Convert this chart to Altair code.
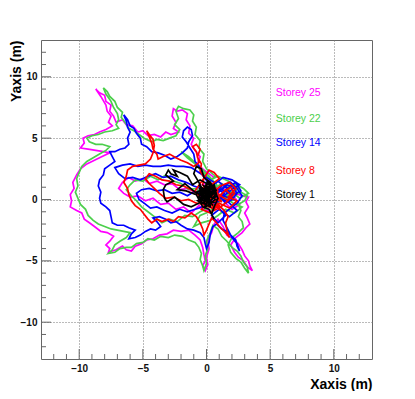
import altair as alt
import pandas as pd

# ---- data ----
storey25 = [(0.0,0.0),(0.5,0.7),(-0.3,1.2),(0.6,1.8),(-0.2,2.4),(-0.7,2.9),(-0.5,3.5),(-0.9,4.0),(-1.2,4.5),(-1.0,5.0),(-1.4,5.4),(-1.3,6.0),(-1.6,6.5),(-1.5,7.0),(-1.9,7.3),(-2.3,7.2),(-2.6,7.4),(-2.7,6.8),(-2.4,6.3),(-2.6,5.8),(-2.2,5.5),(-2.8,5.3),(-3.2,5.5),(-3.6,5.1),(-4.1,5.3),(-4.6,5.2),(-5.0,5.6),(-5.4,5.5),(-5.8,6.0),(-6.3,6.1),(-6.6,6.5),(-7.1,6.3),(-7.3,6.8),(-7.6,7.2),(-7.5,7.7),(-7.9,8.0),(-8.0,8.5),(-8.4,8.7),(-8.7,9.0),(-8.3,8.4),(-7.9,7.7),(-7.8,7.2),(-7.5,6.8),(-7.7,6.3),(-7.4,6.0),(-7.9,5.7),(-8.4,5.5),(-8.8,5.3),(-9.3,5.2),(-9.7,5.0),(-9.6,4.6),(-9.9,4.2),(-9.3,4.1),(-8.7,4.0),(-8.1,3.9),(-7.6,3.8),(-8.2,3.5),(-8.8,3.2),(-9.4,2.9),(-9.9,2.5),(-10.2,2.0),(-10.5,1.4),(-10.4,0.9),(-10.7,0.4),(-10.6,-0.1),(-10.7,-0.6),(-10.2,-0.9),(-9.8,-1.1),(-9.6,-1.6),(-9.2,-1.9),(-8.8,-2.2),(-8.3,-2.6),(-7.8,-2.7),(-7.3,-3.0),(-7.6,-3.4),(-7.9,-3.7),(-7.6,-4.0),(-7.7,-4.3),(-7.1,-4.1),(-6.6,-3.8),(-6.3,-4.1),(-5.9,-4.2),(-5.6,-3.8),(-5.1,-3.6),(-4.7,-3.3),(-4.2,-3.2),(-3.7,-2.9),(-3.1,-2.8),(-2.6,-2.5),(-2.0,-2.6),(-1.4,-2.5),(-0.9,-2.9),(-0.5,-3.3),(-0.3,-3.9),(-0.2,-4.5),(-0.1,-5.0),(-0.3,-5.4),(-0.1,-5.8),(0.1,-5.3),(0.0,-4.7),(0.2,-4.0),(0.1,-3.3),(0.4,-2.7),(0.6,-2.0),(0.9,-1.6),(1.3,-2.2),(1.6,-2.9),(2.1,-3.2),(2.5,-3.6),(2.8,-4.1),(3.0,-4.6),(3.3,-5.0),(3.4,-5.4),(3.6,-5.8),(3.2,-5.5),(2.9,-5.0),(2.5,-4.7),(2.2,-4.3),(1.9,-3.7),(2.3,-3.1),(2.8,-2.7),(3.1,-2.3),(3.4,-2.0),(3.2,-1.5),(3.0,-1.1),(3.3,-0.6),(3.1,-0.2),(3.3,0.2),(2.8,0.3),(2.3,0.5),(1.8,0.1),(1.2,0.4),(0.7,-0.2),(0.3,-0.5),(-0.4,0.2),(-0.9,0.6),(-1.5,0.9),(-2.1,0.8),(-2.7,1.3),(-3.3,1.2),(-3.9,1.5),(-4.5,1.3),(-5.0,1.7),(-5.6,1.5),(-6.1,1.8),(-6.6,1.4),(-6.9,0.9),(-6.5,0.5),(-6.0,0.2),(-5.4,0.3),(-4.8,-0.1),(-4.2,0.1),(-3.6,-0.4),(-3.0,-0.3),(-2.4,-0.8),(-1.8,-0.6),(-1.2,-1.1),(-0.6,-0.5),(0.0,-0.9),(0.5,-0.3),(1.0,0.3),(1.5,-0.3),(2.0,-0.8),(2.6,-0.4),(2.2,0.2),(1.6,0.7),(1.0,1.1),(0.4,0.6),(-0.2,1.0),(0.3,0.2),(0.8,-0.6),(0.2,-1.0),(-0.3,-0.2)]

storey22 = [(0.2,0.1),(0.8,0.6),(0.1,1.3),(0.7,1.9),(0.0,2.5),(-0.3,3.1),(-0.2,3.7),(-0.6,4.2),(-0.5,4.8),(-0.9,5.3),(-0.8,5.9),(-1.1,6.4),(-1.0,6.9),(-1.3,7.3),(-1.8,7.4),(-2.2,7.6),(-2.4,7.2),(-2.2,6.6),(-2.5,6.1),(-2.1,5.7),(-2.4,5.2),(-2.9,5.0),(-3.4,4.8),(-3.9,4.9),(-4.3,4.7),(-4.9,5.0),(-5.3,5.3),(-5.7,5.6),(-6.1,5.8),(-6.4,6.3),(-6.7,6.7),(-6.6,7.1),(-7.0,7.5),(-7.2,8.0),(-7.6,8.4),(-7.8,8.8),(-8.1,9.1),(-7.9,8.6),(-7.5,8.0),(-7.3,7.5),(-7.0,7.0),(-6.9,6.5),(-7.1,6.1),(-6.9,5.8),(-7.4,5.6),(-8.0,5.5),(-8.5,5.3),(-9.0,5.2),(-9.4,5.0),(-9.2,4.7),(-8.7,4.5),(-8.2,4.5),(-7.6,4.3),(-7.9,4.0),(-8.4,3.7),(-8.9,3.4),(-9.4,3.1),(-9.8,2.7),(-10.0,2.2),(-10.2,1.7),(-10.1,1.1),(-10.3,0.6),(-10.1,0.1),(-9.9,-0.4),(-9.5,-0.8),(-9.3,-1.3),(-8.9,-1.7),(-8.5,-2.0),(-8.0,-2.2),(-7.5,-2.4),(-7.0,-2.5),(-6.5,-2.6),(-6.0,-2.7),(-6.3,-3.1),(-6.8,-3.4),(-7.2,-3.7),(-7.4,-4.1),(-7.7,-4.4),(-7.2,-4.3),(-6.8,-4.0),(-6.3,-3.9),(-5.9,-3.9),(-5.5,-3.6),(-5.0,-3.5),(-4.6,-3.2),(-4.1,-3.3),(-3.6,-3.0),(-3.0,-3.1),(-2.5,-2.9),(-1.9,-3.0),(-1.4,-3.3),(-0.9,-3.5),(-0.6,-3.9),(-0.4,-4.4),(-0.5,-4.9),(-0.3,-5.4),(-0.2,-5.8),(0.0,-5.2),(-0.1,-4.6),(0.1,-4.0),(0.0,-3.4),(0.3,-2.7),(0.5,-2.1),(0.9,-2.4),(1.2,-3.0),(1.6,-3.4),(2.0,-3.9),(2.4,-4.2),(2.7,-4.6),(2.9,-5.1),(3.2,-5.5),(3.3,-6.0),(3.0,-5.6),(2.7,-5.1),(2.3,-4.8),(1.9,-4.3),(1.7,-3.7),(2.0,-3.1),(2.5,-2.7),(2.9,-2.3),(2.8,-1.8),(2.5,-1.4),(2.7,-0.9),(2.5,-0.4),(3.0,-0.1),(3.2,0.3),(2.7,0.6),(2.2,0.4),(1.7,0.8),(1.1,0.4),(0.6,-0.2),(0.1,-0.7),(-0.5,-1.0),(-1.1,-1.4),(-1.7,-1.3),(-2.3,-1.8),(-2.9,-1.6),(-3.5,-1.9),(-4.1,-1.4),(-4.6,-1.0),(-5.1,-0.6),(-5.5,-0.1),(-5.9,0.3),(-6.3,0.8),(-6.0,1.2),(-5.6,1.6),(-5.0,1.5),(-4.4,1.9),(-3.8,1.6),(-3.2,2.0),(-2.6,1.5),(-2.0,1.3),(-1.4,0.8),(-0.8,0.9),(-0.3,0.3),(0.4,-0.3),(1.0,-0.7),(1.6,-0.2),(2.2,0.0),(1.8,0.8),(1.2,1.3),(0.6,0.9),(0.0,1.4),(-0.2,0.6),(0.4,0.2),(0.6,0.6),(1.4,1.0),(2.2,1.3),(2.9,0.9),(3.3,0.5),(2.6,0.1),(2.0,0.6),(1.4,0.2),(2.1,-0.3),(2.8,-0.6),(2.2,-1.1),(1.5,-0.8),(0.9,-1.3),(0.3,-1.7),(-0.4,-1.9),(-1.0,-2.2),(-0.5,-1.3),(0.2,-1.0),(1.0,-0.2),(1.8,0.3),(2.5,0.9),(1.7,1.5),(0.9,1.9),(0.3,1.6),(-0.4,2.3),(-0.9,2.9),(-1.5,3.4),(-2.0,3.9),(-1.4,3.5),(-0.6,2.7),(0.2,1.9),(0.8,1.2),(0.3,0.5)]

storey14 = [(0.0,0.2),(0.5,0.8),(1.1,0.7),(1.6,1.2),(2.1,1.0),(2.4,0.5),(2.0,0.0),(1.5,-0.3),(1.0,0.3),(0.5,0.9),(0.1,1.4),(-0.3,2.0),(-0.5,2.6),(-0.9,3.1),(-1.0,3.7),(-1.3,4.2),(-1.6,4.7),(-1.9,5.1),(-1.8,5.6),(-1.5,5.9),(-1.2,5.7),(-1.1,5.2),(-1.4,4.7),(-1.5,4.2),(-1.9,3.8),(-2.3,3.5),(-2.8,3.3),(-3.3,3.6),(-3.8,3.8),(-4.3,3.9),(-4.7,4.3),(-5.1,4.5),(-5.2,5.0),(-5.5,5.4),(-5.7,5.8),(-6.0,6.0),(-6.2,6.5),(-6.5,6.9),(-6.3,6.4),(-6.2,5.9),(-6.0,5.5),(-6.2,5.0),(-6.1,4.5),(-6.4,4.2),(-6.8,4.1),(-7.2,3.9),(-7.6,3.9),(-7.4,3.5),(-7.2,3.1),(-7.6,2.8),(-8.0,2.5),(-8.1,2.0),(-8.4,1.6),(-8.5,1.1),(-8.3,0.6),(-8.4,0.1),(-8.3,-0.3),(-7.9,-0.6),(-7.6,-0.9),(-7.5,-1.4),(-7.4,-1.9),(-7.0,-2.1),(-6.5,-2.1),(-6.1,-2.3),(-5.6,-2.5),(-5.9,-2.8),(-6.1,-3.2),(-5.6,-3.1),(-5.2,-2.9),(-4.8,-2.6),(-4.4,-2.4),(-4.0,-2.5),(-3.6,-2.2),(-3.9,-1.8),(-4.2,-1.5),(-3.7,-1.4),(-3.2,-1.6),(-2.8,-1.9),(-2.4,-1.8),(-2.0,-2.1),(-1.5,-2.4),(-1.0,-2.5),(-0.5,-2.7),(-0.2,-3.1),(-0.1,-3.6),(0.0,-4.0),(0.2,-3.5),(0.3,-2.8),(0.5,-2.2),(0.8,-2.0),(1.2,-2.4),(1.6,-2.6),(2.0,-3.0),(2.3,-3.3),(2.4,-3.8),(2.6,-4.2),(2.4,-3.6),(2.0,-3.1),(1.6,-2.3),(1.3,-1.7),(1.4,-1.1),(1.9,-0.7),(2.4,-0.3),(2.8,0.3),(2.4,0.9),(1.9,1.4),(1.2,1.1),(0.7,0.5),(0.2,-0.2),(-0.3,-0.6),(-0.9,-0.8),(-1.5,-1.0),(-2.1,-0.8),(-2.7,-1.1),(-3.3,-0.9),(-3.9,-0.6),(-4.4,-0.7),(-4.9,-0.3),(-5.3,0.0),(-5.5,0.5),(-5.1,0.8),(-4.5,0.9),(-3.9,0.7),(-3.3,0.8),(-2.7,0.5),(-2.1,0.6),(-1.5,0.3),(-0.9,0.7),(-0.3,0.4),(0.3,-0.4),(0.9,-0.1),(1.5,0.4),(2.1,0.9),(2.6,1.2),(2.0,1.6),(1.3,1.8),(0.7,1.3),(0.0,1.8),(-0.6,2.2),(-1.2,2.6),(-1.8,2.7),(-2.4,2.7),(-3.0,2.8),(-3.6,2.7),(-4.2,2.7),(-4.8,2.8),(-5.4,2.7),(-6.0,2.9),(-6.6,2.8),(-7.2,2.6),(-6.9,2.1),(-6.4,1.7),(-5.8,1.8),(-5.2,1.6),(-4.6,1.9),(-4.0,2.1),(-3.4,1.8),(-2.8,1.9),(-2.2,1.6),(-1.6,1.4),(-1.0,1.1),(-0.4,0.9),(0.2,0.4),(0.8,0.9),(1.4,0.5),(0.9,0.0),(0.3,0.5),(0.5,0.2),(1.2,0.8),(2.0,0.4),(2.7,0.7),(2.3,1.4),(1.6,0.9),(0.9,1.5),(0.2,0.9),(0.9,0.2),(1.7,-0.2),(2.4,-0.9),(1.8,-1.4),(1.0,-0.8),(0.4,-1.3),(0.9,-1.9),(1.5,-1.3),(0.7,-0.4),(1.3,0.3),(2.1,0.0),(1.5,1.1),(0.6,0.4)]

storey8 = [(0.0,0.0),(0.5,0.6),(1.0,0.2),(1.5,0.8),(1.9,0.4),(1.6,-0.2),(1.1,-0.6),(0.6,-0.9),(0.3,-0.2),(0.1,0.6),(-0.3,1.2),(-0.2,1.8),(-0.5,2.3),(-0.4,2.9),(-0.7,3.4),(-0.8,3.9),(-1.1,4.3),(-0.8,4.5),(-0.5,4.1),(-0.7,3.5),(-0.6,3.0),(-1.0,2.7),(-1.5,3.0),(-2.0,3.2),(-2.4,3.4),(-2.9,3.7),(-3.4,3.5),(-3.8,3.3),(-3.9,3.7),(-4.2,4.1),(-4.3,4.6),(-4.5,5.1),(-4.7,5.6),(-4.5,5.3),(-4.2,4.9),(-4.1,4.4),(-4.2,3.8),(-4.4,3.3),(-4.8,2.9),(-5.3,2.8),(-5.8,2.7),(-6.2,2.4),(-6.3,1.9),(-6.5,1.4),(-6.2,0.9),(-6.1,0.4),(-5.9,-0.1),(-5.6,-0.5),(-5.2,-0.8),(-4.9,-1.2),(-4.6,-1.6),(-4.3,-1.9),(-3.9,-1.6),(-3.5,-1.8),(-3.0,-1.6),(-2.6,-1.8),(-2.2,-1.4),(-1.7,-1.5),(-1.2,-1.1),(-0.8,-1.4),(-0.5,-1.9),(-0.3,-2.4),(-0.2,-2.9),(0.0,-2.5),(0.2,-2.0),(0.4,-1.5),(0.7,-1.8),(1.0,-2.2),(1.3,-2.5),(1.6,-2.8),(1.8,-3.1),(1.6,-2.5),(1.5,-1.9),(1.7,-1.4),(1.4,-0.9),(0.9,-0.4),(0.4,-0.7),(-0.2,-0.4),(-0.8,-0.3),(-1.4,0.0),(-2.0,-0.1),(-2.6,0.2),(-3.2,0.1),(-3.7,0.5),(-4.1,0.9),(-4.5,1.3),(-4.8,1.7),(-4.5,2.1),(-4.0,1.9),(-3.5,1.6),(-2.9,1.5),(-2.4,1.2),(-1.8,1.1),(-1.2,0.8),(-0.6,0.4),(0.0,0.8),(0.5,1.3),(1.0,1.7),(0.6,2.2),(0.2,2.4),(-0.1,1.9),(-0.5,1.3),(-0.9,0.7),(-0.4,0.0),(0.2,-0.5),(0.8,0.0),(1.3,0.6),(1.9,1.0),(2.2,0.5),(1.7,-0.1),(1.1,0.3),(0.5,0.9),(-0.1,0.4),(0.4,-0.3),(1.0,-0.8),(0.6,0.3),(0.0,-0.2),(0.4,0.4),(1.1,1.1),(1.8,1.4),(2.3,0.9),(1.7,0.2),(2.4,-0.1),(1.8,-0.7),(1.0,-0.3),(0.3,-1.1),(-0.4,-0.8),(0.2,0.0),(0.9,0.7),(0.3,1.4),(-0.3,0.9),(0.5,0.2),(1.2,-0.2),(0.7,0.5)]

storey1 = [(0.0,0.0),(0.3,0.6),(-0.4,0.9),(-0.6,0.2),(0.2,-0.3),(0.7,0.4),(0.2,1.2),(-0.5,1.6),(-1.1,1.2),(-1.5,1.9),(-2.1,2.2),(-2.6,2.4),(-2.3,1.9),(-2.8,2.1),(-3.0,2.4),(-3.2,2.0),(-2.6,1.5),(-3.2,1.2),(-3.4,0.8),(-3.3,0.1),(-3.1,-0.2),(-2.5,0.2),(-1.8,-0.4),(-1.2,-0.6),(-0.6,-0.3),(-0.2,0.6),(-0.6,1.4),(-1.0,2.1),(-0.8,2.7),(-0.4,2.5),(-0.2,1.8),(0.3,1.4),(0.6,0.8),(0.9,0.1),(0.6,-0.6),(0.4,-1.2),(0.6,-1.6),(0.2,-0.8),(-0.3,-0.6),(-0.8,0.4),(-1.6,0.7),(-2.3,0.8),(-1.7,1.3),(-0.9,0.6),(-0.2,0.2),(0.4,0.9),(0.1,1.5),(-0.3,0.4),(0.5,-0.2),(-0.4,-0.1),(0.1,0.7),(0.6,1.2),(0.8,0.3),(-0.1,-0.4),(-0.5,0.5),(0.2,0.2),(-0.6,0.9),(0.5,0.1),(-0.2,1.1),(0.7,0.7),(-0.7,-0.1),(0.3,-0.6),(0.1,1.0),(-0.5,0.3),(0.6,0.5),(-0.3,-0.3),(0.4,1.1),(-0.8,0.6),(0.2,-0.1),(0.0,1.3),(-0.4,0.0),(0.8,0.8),(-0.1,0.5),(0.5,-0.5),(-0.6,1.2),(0.3,0.3),(-0.2,-0.7),(0.7,0.0),(-0.5,0.8),(0.1,-0.2),(0.6,1.0),(-0.3,0.7),(0.2,0.6),(-0.1,0.0),(0.4,0.4),(-0.4,1.0),(0.0,0.3)]

series_names = ["Storey 25", "Storey 22", "Storey 14", "Storey 8", "Storey 1"]
series_colors = ["#ff00ff", "#4ccf4c", "#0000ff", "#ff0000", "#000000"]
series_points = [storey25, storey22, storey14, storey8, storey1]

legend_x = [5.44, 5.44, 5.44, 5.44, 5.44]
legend_y = [8.66, 6.57, 4.59, 2.36, 0.38]

major_ticks = [-10, -5, 0, 5, 10]
minor_ticks = [-12, -11, -9, -8, -7, -6, -4, -3, -2, -1, 1, 2, 3, 4, 6, 7, 8, 9, 11, 12]

# ---- chart ----
W, H = 331, 319
FONT = "Liberation Sans"
xs = alt.Scale(domain=[-13, 13], nice=False, zero=False)
ys = alt.Scale(domain=[-13, 13], nice=False, zero=False)

common = dict(values=major_ticks, grid=True, gridDash=[1, 2], gridColor="#777777",
              gridWidth=1, ticks=False, domain=False, labelFont=FONT, labelFontSize=10,
              labelFontWeight="bold", labelColor="#111", labelPadding=4,
              titleFont=FONT, titleFontSize=14, titleFontWeight="bold", titleColor="#000")
xaxis = alt.Axis(title="Xaxis (m)", titleX=W, titleY=29, titleAlign="right",
                 titleBaseline="alphabetic", **common)
yaxis = alt.Axis(title="Yaxis (m)", titleAngle=-90, titleX=-21, titleY=0,
                 titleAlign="right", titleBaseline="alphabetic", **common)

X = alt.X("x:Q", scale=xs, axis=xaxis)
Y = alt.Y("y:Q", scale=ys, axis=yaxis)

layers = []
for name, col, pts in zip(series_names, series_colors, series_points):
    df = pd.DataFrame(pts, columns=["x", "y"])
    df["i"] = range(len(df))
    layers.append(
        alt.Chart(df).mark_line(color=col, strokeWidth=1.7, clip=True, interpolate="linear")
        .encode(x=X, y=Y, order="i:Q")
    )

leg = pd.DataFrame({"x": legend_x, "y": legend_y, "t": series_names, "c": series_colors})
layers.append(
    alt.Chart(leg).mark_text(align="left", baseline="middle", font=FONT, fontSize=10.5)
    .encode(x=X, y=Y, text="t:N", color=alt.Color("c:N", scale=None))
)

tick_col = "#666666"
layers.append(alt.Chart(pd.DataFrame({"x": major_ticks})).mark_rule(color=tick_col)
              .encode(x=X, y=alt.value(H), y2=alt.value(H - 10)))
layers.append(alt.Chart(pd.DataFrame({"x": minor_ticks})).mark_rule(color=tick_col)
              .encode(x=X, y=alt.value(H), y2=alt.value(H - 5)))
layers.append(alt.Chart(pd.DataFrame({"y": major_ticks})).mark_rule(color=tick_col)
              .encode(y=Y, x=alt.value(0), x2=alt.value(10)))
layers.append(alt.Chart(pd.DataFrame({"y": minor_ticks})).mark_rule(color=tick_col)
              .encode(y=Y, x=alt.value(0), x2=alt.value(5)))

chart = alt.layer(*layers).properties(
    width=W, height=H,
    autosize=alt.AutoSizeParams(type="none"),
    padding={"left": 33, "top": 32, "right": 35, "bottom": 32},
    background="white",
).configure_view(stroke="#666666", strokeWidth=1)

chart.save("out.html", embed_options={"renderer": "svg", "actions": False})
